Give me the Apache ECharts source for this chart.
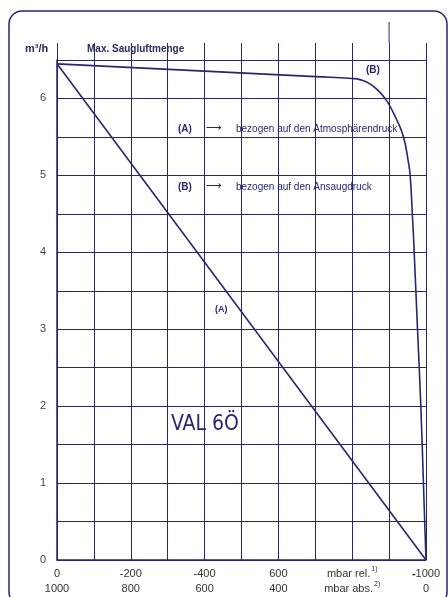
<!DOCTYPE html>
<html><head><meta charset="utf-8">
<script src="https://cdn.jsdelivr.net/npm/echarts@6/dist/echarts.min.js"></script>
<style>html,body{margin:0;padding:0;background:#fff}#c{width:448px;height:597px}</style>
</head><body><div id="c"></div>
<script>
// pressure axis shown as magnitude of relative pressure (0 .. 1000 mbar)
const xTicks = [0, 200, 400, 600, 800, 1000];
const relLabels = ['0', '-200', '-400', '600', 'mbar rel.{sup|1)}', '{bm|-}1000'];
const absLabels = ['1000', '800', '600', '400', 'mbar abs.{sup|2)}', '0'];
const yTickLabels = ['0', '1', '2', '3', '4', '5', '6'];
// Curve (A): referred to atmospheric pressure
const curveA_x = [0, 1000];
const curveA_y = [6.45, 0];
// Curve (B): referred to suction pressure
const curveB_x = [0, 400, 700, 800, 821, 848, 875, 889, 900, 920, 939, 952, 957, 963, 968, 977, 986, 993, 1000];
const curveB_y = [6.45, 6.355, 6.284, 6.26, 6.245, 6.19, 6.08, 6.0, 5.92, 5.73, 5.5, 5.18, 5.0, 4.5, 4.0, 3.0, 2.0, 1.0, 0];

const NAVY = '#27276f';
const FONT = "'Liberation Sans', Arial, sans-serif";
const chart = echarts.init(document.getElementById('c'), null, {renderer: 'canvas'});

function zip(xs, ys) { return xs.map((x, i) => [x, ys[i]]); }

chart.setOption({
  animation: false,
  backgroundColor: '#fff',
  grid: [
    {left: 57, right: 22, top: 60, bottom: 37},
    {left: 57, right: 22, top: 43, height: 17}
  ],
  xAxis: [
    {
      type: 'value', gridIndex: 0, min: 0, max: 1000, interval: 100,
      axisLine: {show: true, lineStyle: {color: NAVY, width: 1.5}},
      axisTick: {show: false},
      splitLine: {show: true, lineStyle: {color: NAVY, width: 1}},
      axisLabel: {
        margin: 6, color: '#333', fontFamily: FONT, fontSize: 11, lineHeight: 15,
        formatter: function (v) {
          const i = xTicks.indexOf(v);
          if (i < 0) return '';
          return relLabels[i] + '\n' + absLabels[i];
        },
        rich: {
          sup: {fontSize: 7, verticalAlign: 'top', color: '#333', fontFamily: FONT, lineHeight: 15, padding: [0, 0, 5, 1]},
          bm: {fontSize: 11, fontWeight: 'bold', color: '#222', fontFamily: FONT, lineHeight: 15}
        }
      }
    },
    {
      type: 'value', gridIndex: 1, min: 0, max: 1000, interval: 100,
      axisLine: {show: false}, axisTick: {show: false}, axisLabel: {show: false},
      splitLine: {show: true, lineStyle: {color: NAVY, width: 1}}
    }
  ],
  yAxis: [
    {
      type: 'value', gridIndex: 0, min: 0, max: 6.5, interval: 0.5,
      axisLine: {show: true, lineStyle: {color: NAVY, width: 1.5}},
      axisTick: {show: false},
      splitLine: {show: true, lineStyle: {color: NAVY, width: 1}},
      axisLabel: {
        margin: 11, color: '#444', fontFamily: FONT, fontSize: 11,
        formatter: function (v) {
          const i = yTickLabels.indexOf(String(v));
          return i < 0 ? '' : yTickLabels[i];
        }
      }
    },
    {
      type: 'value', gridIndex: 1, min: 0, max: 1, show: false,
      splitLine: {show: false}
    }
  ],
  series: [
    {
      name: 'A', type: 'line', xAxisIndex: 0, yAxisIndex: 0,
      data: zip(curveA_x, curveA_y), showSymbol: false,
      lineStyle: {color: NAVY, width: 1.6}
    },
    {
      name: 'B', type: 'line', xAxisIndex: 0, yAxisIndex: 0,
      data: zip(curveB_x, curveB_y), showSymbol: false,
      smooth: 0.5,
      lineStyle: {color: NAVY, width: 1.6}
    }
  ]
});

const x900 = chart.convertToPixel({xAxisIndex: 0}, 900);
const yTop = chart.convertToPixel({xAxisIndex: 1, yAxisIndex: 1}, [0, 1])[1];
const txt = (x, y, s, o) => Object.assign({
  type: 'text', x: x, y: y,
  style: Object.assign({text: s, fill: NAVY, font: '10px ' + FONT, textVerticalAlign: 'middle'}, o || {})
});

chart.setOption({
  graphic: [
    {type: 'rect', shape: {x: 9, y: 11, width: 438, height: 594, r: 13},
     style: {fill: 'none', stroke: NAVY, lineWidth: 1.5}, silent: true},
    {type: 'line', shape: {x1: x900, y1: 22, x2: x900, y2: yTop},
     style: {stroke: NAVY, lineWidth: 1}},
    txt(25, 49, 'm³/h', {font: 'bold 11px ' + FONT, fill: '#2a2a5e'}),
    txt(87, 49, 'Max. Saugluftmenge', {font: 'bold 10px ' + FONT, fill: '#2a2a5e'}),
    txt(366, 70, '(B)', {font: 'bold 10px ' + FONT}),
    txt(178, 129, '(A)', {font: 'bold 10px ' + FONT}),
    txt(206, 128, '⟶', {font: "11px 'DejaVu Sans', sans-serif"}),
    txt(236, 129, 'bezogen auf den Atmosphärendruck'),
    txt(178, 187, '(B)', {font: 'bold 10px ' + FONT}),
    txt(206, 186, '⟶', {font: "11px 'DejaVu Sans', sans-serif"}),
    txt(236, 187, 'bezogen auf den Ansaugdruck'),
    txt(215, 310, '(A)', {font: 'bold 9px ' + FONT}),
    txt(171, 425, 'VAL 6Ö', {font: "21px 'Liberation Sans Narrow', 'DejaVu Sans Condensed', sans-serif"})
  ]
});
</script></body></html>
